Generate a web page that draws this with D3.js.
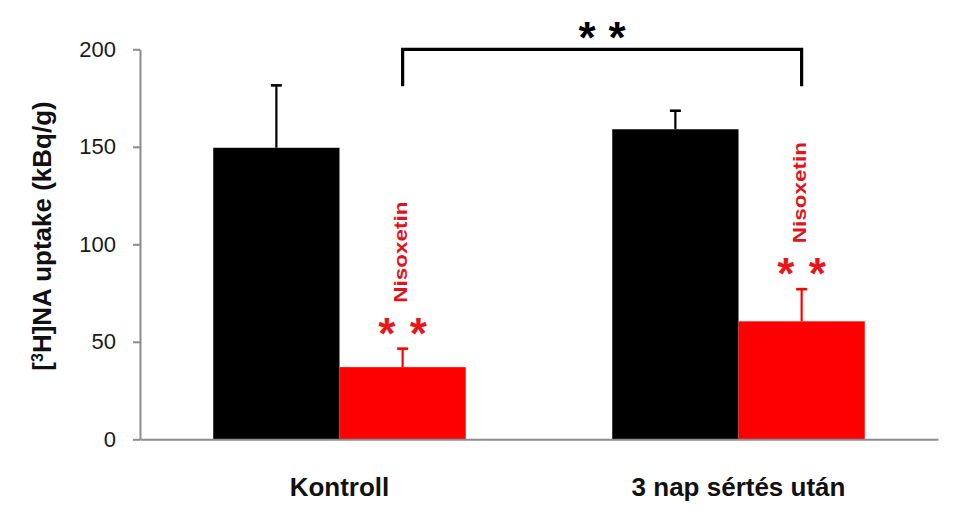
<!DOCTYPE html>
<html>
<head>
<meta charset="utf-8">
<script src="https://cdn.jsdelivr.net/npm/d3@7"></script>
<style>
  html, body { margin: 0; padding: 0; background: #fff; }
  svg { display: block; }
  text { font-family: "Liberation Sans", Arial, Helvetica, sans-serif; }
</style>
</head>
<body>
<svg id="chart" width="961" height="517"></svg>
<script>
// ---- data ----
const categories = ["Kontroll", "3 nap sértés után"];
const seriesNames = ["control", "Nisoxetin"];
const controlValues = [149.5, 159];
const controlErrors = [181.5, 168.5];
const nisoxetinValues = [37, 60.5];
const nisoxetinErrors = [46.5, 77];
const yTicks = [0, 50, 100, 150, 200];
const yLabel = { pre: "[", sup: "3", post: "H]NA uptake (kBq/g)" };
const seriesLabel = "Nisoxetin";
const bracketRange = [200, 181]; // y-values: bracket top, leg bottom

const colors = { control: "#000000", Nisoxetin: "#ff0000" };

const svg = d3.select("#chart");
const margin = { left: 140, right: 23, top: 49.3, bottom: 77.7 };
const W = 961, H = 517;

const y = d3.scaleLinear().domain([0, 200]).range([H - margin.bottom, margin.top]);
const x = d3.scaleBand().domain(categories).range([margin.left, W - margin.right]).padding(0);
const xs = d3.scaleBand().domain(seriesNames).range([0, x.bandwidth()]).paddingInner(0).paddingOuter(0.58);

const rows = categories.map((c, i) => ({
  cat: c,
  bars: [
    { s: "control", v: controlValues[i], e: controlErrors[i] },
    { s: "Nisoxetin", v: nisoxetinValues[i], e: nisoxetinErrors[i] }
  ]
}));

// bars
const g = svg.append("g");
rows.forEach(r => {
  r.bars.forEach(b => {
    const x0 = x(r.cat) + xs(b.s);
    g.append("rect")
      .attr("x", x0).attr("y", y(b.v))
      .attr("width", xs.bandwidth()).attr("height", y(0) - y(b.v))
      .attr("fill", colors[b.s]);
    const cx = x0 + xs.bandwidth() / 2;
    g.append("line").attr("x1", cx).attr("x2", cx).attr("y1", y(b.v)).attr("y2", y(b.e))
      .attr("stroke", colors[b.s]).attr("stroke-width", 2.2);
    g.append("line").attr("x1", cx - 5.5).attr("x2", cx + 5.5).attr("y1", y(b.e)).attr("y2", y(b.e))
      .attr("stroke", colors[b.s]).attr("stroke-width", 2.6);
  });
  // Nisoxetin annotations
  const nb = r.bars[1];
  const cx = x(r.cat) + xs(nb.s) + xs.bandwidth() / 2;
  const starY = y(nb.e) - 22;
  [-15.8, 15.8].forEach(dx => {
    g.append("text").attr("x", cx + dx).attr("y", starY + 22)
      .attr("text-anchor", "middle").attr("font-weight", "bold")
      .attr("font-size", 44).attr("fill", "#e8161b").text("*");
  });
  g.append("text")
    .attr("transform", `translate(${cx + 4.5},${starY - 24}) rotate(-90)`)
    .attr("text-anchor", "start").attr("font-weight", "bold")
    .attr("font-size", 19).attr("fill", "#e0141c")
    .attr("textLength", 101).attr("lengthAdjust", "spacingAndGlyphs")
    .text(seriesLabel);
});

// axes
const yAxis = d3.axisLeft(y).tickValues(yTicks).tickSize(7).tickSizeOuter(0).tickPadding(17);
const ya = svg.append("g").attr("transform", `translate(${margin.left},0)`).call(yAxis);
ya.select(".domain").attr("stroke", "#8c8c8c").attr("stroke-width", 2);
ya.selectAll(".tick line").attr("stroke", "#8c8c8c").attr("stroke-width", 2);
ya.selectAll(".tick text").attr("font-size", 22).attr("fill", "#1a1a1a")
  .attr("font-family", "'Liberation Sans', Arial, sans-serif");

const xAxis = d3.axisBottom(x).tickSize(0).tickSizeOuter(0).tickPadding(38);
const xa = svg.append("g").attr("transform", `translate(0,${y(0)})`).call(xAxis);
xa.select(".domain").attr("stroke", "#8c8c8c").attr("stroke-width", 2);
xa.selectAll(".tick text").attr("font-size", 26).attr("font-weight", "bold").attr("fill", "#111")
  .attr("font-family", "'Liberation Sans', Arial, sans-serif");

// y label
const yl = svg.append("text")
  .attr("transform", `translate(51,236) rotate(-90)`)
  .attr("text-anchor", "middle").attr("font-weight", "bold").attr("font-size", 26).attr("fill", "#111");
yl.append("tspan").text(yLabel.pre);
yl.append("tspan").attr("baseline-shift", "super").attr("font-size", 16).text(yLabel.sup);
yl.append("tspan").text(yLabel.post);

// bracket
const bx1 = x(categories[0]) + xs("Nisoxetin") + xs.bandwidth() / 2;
const bx2 = x(categories[1]) + xs("Nisoxetin") + xs.bandwidth() / 2;
svg.append("path")
  .attr("d", `M${bx1},${y(bracketRange[1])}V${y(bracketRange[0])}H${bx2}V${y(bracketRange[1])}`)
  .attr("fill", "none").attr("stroke", "#000").attr("stroke-width", 3.2);
const bmid = (bx1 + bx2) / 2;
[-15, 15].forEach(dx => {
  svg.append("text").attr("x", bmid + dx).attr("y", y(bracketRange[0]) - 18 + 22)
    .attr("text-anchor", "middle").attr("font-weight", "bold")
    .attr("font-size", 44).attr("fill", "#000").text("*");
});
</script>
</body>
</html>
